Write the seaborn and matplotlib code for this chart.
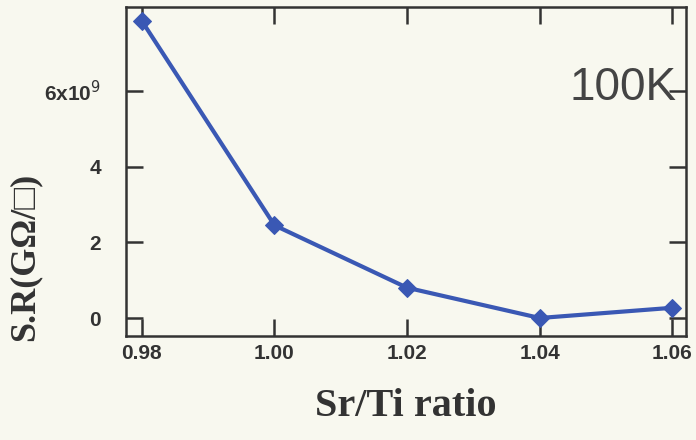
import matplotlib
matplotlib.use("Agg")
import matplotlib.pyplot as plt
import seaborn as sns
import pandas as pd

# Sheet resistance versus Sr/Ti ratio at 100 K
sr_ti_ratio = [0.98, 1.00, 1.02, 1.04, 1.06]
sheet_res = [7.85, 2.45, 0.80, 0.0, 0.27]
x_ticks = [0.98, 1.00, 1.02, 1.04, 1.06]
x_tick_labels = ["0.98", "1.00", "1.02", "1.04", "1.06"]
y_ticks = [0, 2, 4, 6]
y_tick_labels = ["0", "2", "4", "6x10$^{9}$"]

df = pd.DataFrame({"ratio": sr_ti_ratio, "sr": sheet_res})

sns.set_style("ticks")
bg = "#f8f8ef"
plt.rcParams["font.family"] = ["Liberation Sans", "DejaVu Sans"]

fig = plt.figure(figsize=(6.96, 4.40), dpi=100, facecolor=bg)
ax = fig.add_axes([0.181, 0.236, 0.805, 0.748])
ax.set_facecolor(bg)

sns.lineplot(data=df, x="ratio", y="sr", ax=ax, color="#3a58b4",
             linewidth=3, marker="D", markersize=9,
             markeredgecolor="#3a58b4", markerfacecolor="#3a58b4")

ax.set_xlim(0.9776, 1.0621)
ax.set_ylim(-0.48, 8.22)
ax.set_xticks(x_ticks)
ax.set_xticklabels(x_tick_labels, fontsize=15, fontweight="bold", color="#333333")
ax.set_yticks(y_ticks)
ax.set_yticklabels(y_tick_labels, fontsize=15, fontweight="bold", color="#333333")

ax.tick_params(direction="in", length=12, width=1.8, color="#333333",
               top=True, right=True)
ax.tick_params(axis="x", pad=6)
ax.tick_params(axis="y", pad=18)
for s in ax.spines.values():
    s.set_linewidth(1.8)
    s.set_color("#333333")

serif = ["Liberation Serif", "DejaVu Serif"]
ax.set_xlabel("Sr/Ti ratio", fontsize=29, fontweight="bold",
              family=serif, color="#333333", labelpad=18)
ax.set_ylabel("S.R(GΩ/□)", fontsize=26, fontweight="bold",
              family=serif, color="#333333")
ax.yaxis.set_label_coords(-0.15, 0.24)

ax.text(0.8875, 0.754, "100K", transform=ax.transAxes, fontsize=33,
        ha="center", va="center", color="#444444")

fig.savefig("out.png", dpi=100, facecolor=bg)
